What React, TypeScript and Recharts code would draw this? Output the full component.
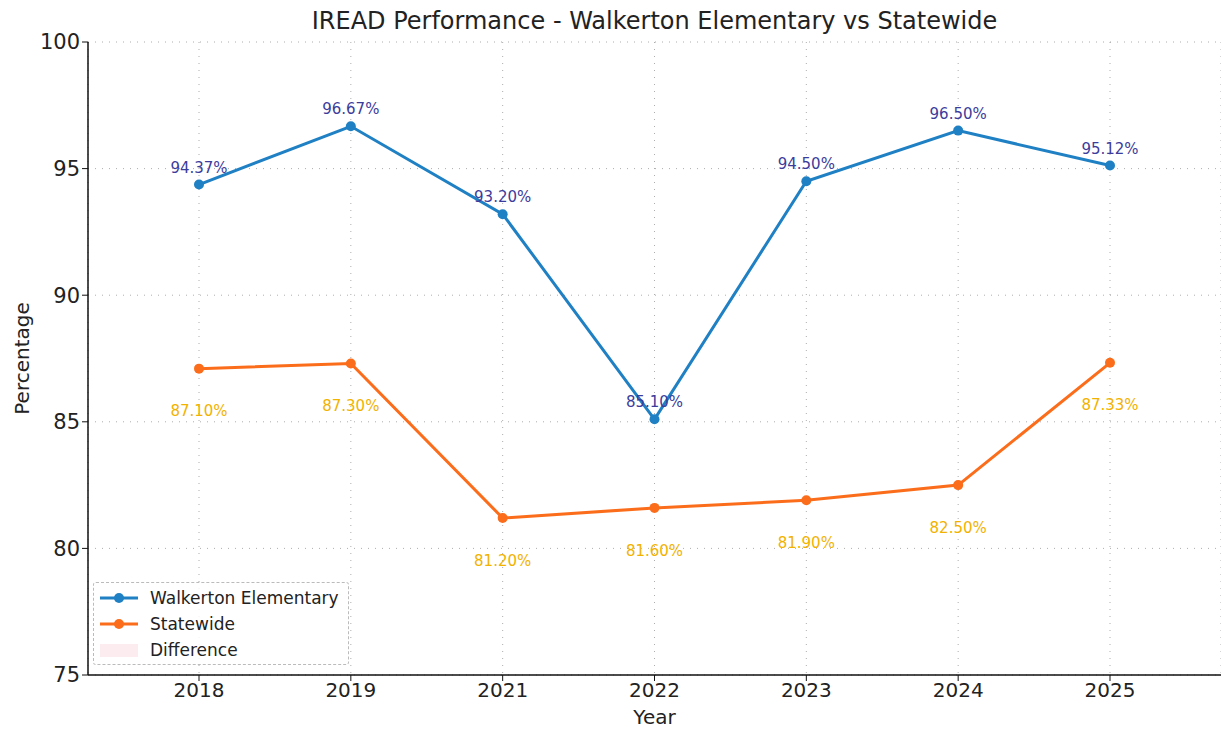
import * as React from "react";
import {
  ComposedChart,
  Line,
  XAxis,
  YAxis,
  CartesianGrid,
  LabelList,
  Label,
} from "recharts";

const years = ["2018", "2019", "2021", "2022", "2023", "2024", "2025"];
const walkerton = [94.37, 96.67, 93.2, 85.1, 94.5, 96.5, 95.12];
const statewide = [87.1, 87.3, 81.2, 81.6, 81.9, 82.5, 87.33];
const yTicks = [75, 80, 85, 90, 95, 100];

const BLUE = "#1f80c4";
const ORANGE = "#fb6d1b";
const FONT = "'DejaVu Sans', sans-serif";

const chartData = years.map((year, i) => ({
  year,
  walkerton: walkerton[i],
  statewide: statewide[i],
}));

function LegendRow({ color, label, patch }: { color: string; label: string; patch?: boolean }) {
  return (
    <div style={{ display: "flex", alignItems: "center", height: 26 }}>
      <svg width={44} height={20} style={{ flexShrink: 0 }}>
        {patch ? (
          <rect x={4} y={4} width={38} height={13} fill="#fcecef" />
        ) : (
          <>
            <line x1={4} x2={42} y1={10} y2={10} stroke={color} strokeWidth={3} />
            <circle cx={23} cy={10} r={5} fill={color} />
          </>
        )}
      </svg>
      <span style={{ marginLeft: 10, fontSize: 17, color: "#222" }}>{label}</span>
    </div>
  );
}

export default function App() {
  return (
    <div
      style={{
        position: "absolute",
        left: 0,
        top: 0,
        width: 1221,
        height: 730,
        background: "#fff",
        fontFamily: FONT,
      }}
    >
      <div
        style={{
          position: "absolute",
          left: 88,
          width: 1133,
          top: 7,
          textAlign: "center",
          fontSize: 24,
          color: "#222",
        }}
      >
        IREAD Performance - Walkerton Elementary vs Statewide
      </div>

      <ComposedChart
        width={1221}
        height={730}
        data={chartData}
        margin={{ top: 42, right: 0, bottom: 0, left: 0 }}
      >
        <CartesianGrid stroke="#777" strokeDasharray="1 6" strokeOpacity={0.6} />
        <XAxis
          dataKey="year"
          padding={{ left: 111, right: 111 }}
          height={55}
          tick={{ fontSize: 20, fill: "#222", fontFamily: FONT }}
          tickLine={{ stroke: "#111" }}
          axisLine={{ stroke: "#111", strokeWidth: 1.5 }}
          tickSize={6}
          tickMargin={2}
        >
          <Label value="Year" position="insideBottom" offset={6} style={{ fontSize: 20, fill: "#222", fontFamily: FONT }} />
        </XAxis>
        <YAxis
          width={88}
          domain={[75, 100]}
          ticks={yTicks}
          interval={0}
          tick={{ fontSize: 21, fill: "#222", fontFamily: FONT }}
          tickLine={{ stroke: "#111" }}
          axisLine={{ stroke: "#111", strokeWidth: 1.5 }}
          tickSize={6}
          tickMargin={2}
        >
          <Label
            value="Percentage"
            angle={-90}
            position="insideLeft"
            offset={22}
            style={{ fontSize: 20, fill: "#222", fontFamily: FONT, textAnchor: "middle" }}
          />
        </YAxis>
        <Line
          dataKey="walkerton"
          name="Walkerton Elementary"
          stroke={BLUE}
          strokeWidth={3}
          dot={{ r: 5, fill: BLUE, stroke: BLUE, strokeWidth: 0 }}
          isAnimationActive={false}
        >
          <LabelList
            dataKey="walkerton"
            position="top"
            offset={12}
            formatter={(v: number) => `${v.toFixed(2)}%`}
            style={{ fontSize: 15, fill: "#3c3c9c", fontFamily: FONT }}
          />
        </Line>
        <Line
          dataKey="statewide"
          name="Statewide"
          stroke={ORANGE}
          strokeWidth={3}
          dot={{ r: 5, fill: ORANGE, stroke: ORANGE, strokeWidth: 0 }}
          isAnimationActive={false}
        >
          <LabelList
            dataKey="statewide"
            position="bottom"
            offset={37}
            formatter={(v: number) => `${v.toFixed(2)}%`}
            style={{ fontSize: 15, fill: "#f2b200", fontFamily: FONT }}
          />
        </Line>
      </ComposedChart>

      {/* legend drawn by hand to match the boxed matplotlib look */}
      <div
        style={{
          position: "absolute",
          left: 93,
          top: 582,
          width: 256,
          height: 83,
          boxSizing: "border-box",
          border: "1px dashed #bbb",
          borderRadius: 3,
          background: "rgba(255,255,255,0.85)",
          padding: "2px 0 0 2px",
        }}
      >
        <LegendRow color={BLUE} label="Walkerton Elementary" />
        <LegendRow color={ORANGE} label="Statewide" />
        <LegendRow color="#fcecef" label="Difference" patch />
      </div>
    </div>
  );
}
